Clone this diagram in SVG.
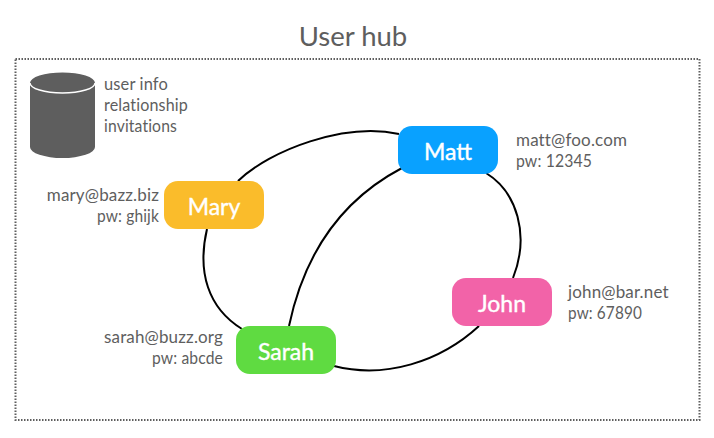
<svg xmlns="http://www.w3.org/2000/svg" width="714" height="438" viewBox="0 0 714 438">
<style>
text{font-family:"Lato","Noto Sans",sans-serif}
.t{font-size:17px;letter-spacing:.15px;fill:#5e5e5e}
.e{text-anchor:end}
.n{font-size:23px;fill:#fff;stroke:#fff;stroke-width:.4;text-anchor:middle}
.c{fill:none;stroke:#000;stroke-width:2}
</style>
<rect width="714" height="438" fill="#fff"/>
<text x="353" y="46" text-anchor="middle" style="font-size:27.5px;fill:#5e5e5e">User hub</text>
<rect x="15.5" y="59" width="684" height="361" fill="none" stroke="#5e5e5e" stroke-width="2" stroke-dasharray="1.5 1.5"/>
<g id="database">
<path d="M30 83A32.5 10.5 0 0 1 95 83V147A32.5 11 0 0 1 30 147Z" fill="#5e5e5e"/>
<path d="M30 83A32.5 10 0 0 0 95 83" fill="none" stroke="#fff" stroke-width="1.5"/>
<text class="t" x="104" y="90" textLength="64" lengthAdjust="spacingAndGlyphs">user info</text>
<text class="t" x="104" y="111" textLength="84" lengthAdjust="spacingAndGlyphs">relationship</text>
<text class="t" x="104" y="132" textLength="73" lengthAdjust="spacingAndGlyphs">invitations</text>
</g>
<g id="connectors">
<path class="c" d="M238 181C270 150 345 122 399 134"/>
<path class="c" d="M486 173C517 192 530 235 513 278"/>
<path class="c" d="M479 326C440 362 385 379 334 366"/>
<path class="c" d="M289 326C305 250 345 198 402 168"/>
<path class="c" d="M207 229C197 272 208 308 242 329"/>
</g>
<g id="mary">
<rect x="164" y="181" width="100" height="48" rx="14" fill="#fabc2b"/>
<text class="n" x="214" y="215">Mary</text>
<text class="t e" x="159" y="201">mary@bazz.biz</text>
<text class="t" x="97" y="222" textLength="62" lengthAdjust="spacingAndGlyphs">pw: ghijk</text>
</g>
<g id="matt">
<rect x="398" y="126" width="100" height="48" rx="14" fill="#09a1ff"/>
<text class="n" x="448" y="160">Matt</text>
<text class="t" x="516" y="146">matt@foo.com</text>
<text class="t" x="516" y="167" textLength="76" lengthAdjust="spacingAndGlyphs">pw: 12345</text>
</g>
<g id="john">
<rect x="452" y="278" width="100" height="48" rx="14" fill="#f263a8"/>
<text class="n" x="502" y="312">John</text>
<text class="t" x="568" y="298">john@bar.net</text>
<text class="t" x="568" y="319" textLength="74" lengthAdjust="spacingAndGlyphs">pw: 67890</text>
</g>
<g id="sarah">
<rect x="236" y="326" width="100" height="48" rx="14" fill="#5fdb41"/>
<text class="n" x="286" y="360">Sarah</text>
<text class="t e" x="223" y="343">sarah@buzz.org</text>
<text class="t" x="152" y="364" textLength="71" lengthAdjust="spacingAndGlyphs">pw: abcde</text>
</g>
</svg>
